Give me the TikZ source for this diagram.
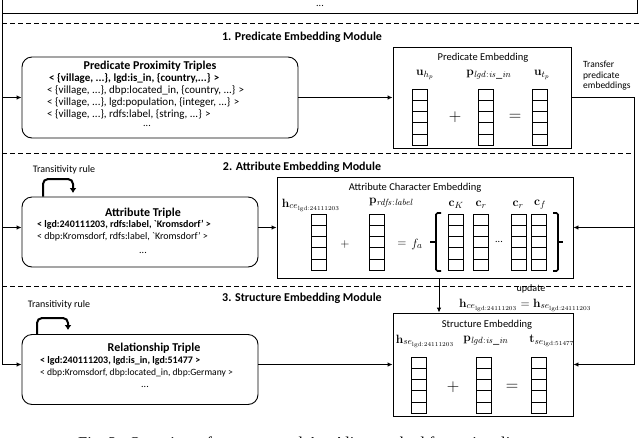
\documentclass[tikz,border=0pt]{standalone}
\usepackage[no-math]{fontspec}
\setmainfont{Carlito}
\newfontfamily\capfont{Liberation Serif}
\usetikzlibrary{arrows.meta}
\newcommand{\fsz}[2]{\fontsize{#1}{#2}\selectfont}
\tikzset{
  ln/.style={line width=0.9pt},
  dsh/.style={line width=0.8pt, dash pattern=on 5pt off 3pt},
  arr/.style={line width=0.9pt, -{Latex[length=5pt,width=4.5pt]}},
  looparr/.style={line width=2pt, rounded corners=5pt, -{Latex[length=5pt,width=7pt]}},
  plainbox/.style={draw, line width=0.9pt, inner sep=0pt},
  tribox/.style={draw, line width=0.9pt, rounded corners=10pt, inner sep=0pt},
  txt/.style={inner sep=0pt, font=\fsz{10}{12}},
  btxt/.style={inner sep=0pt, font=\fsz{10}{12}\bfseries},
  ttl/.style={inner sep=0pt, font=\fsz{12}{14}\bfseries},
  sec/.style={inner sep=0pt, font=\fsz{12}{14}\bfseries},
  mlab/.style={inner sep=0pt, font=\fsz{12.5}{14}},
  op/.style={inner sep=0pt, font=\fsz{17}{20}},
  cell/.style={draw, line width=0.9pt},
  vec/.pic={\foreach \i in {0,...,4}{\draw[cell] (0,\i*11.3) rectangle ++(15,11.3);}},
  brk/.style={line width=1.6pt, rounded corners=1.5pt}
}
\begin{document}
\begin{tikzpicture}[x=1pt,y=-1pt]
\useasboundingbox (0,0) rectangle (640,437);
\clip (0,0) rectangle (640,437);

% top box remains
\draw[ln] (2,-5) -- (2,13) -- (637,13) -- (637,-5);
\node[txt, anchor=base] (topdots) at (320,6) {...};

% dashed separators
\draw[dsh] (2,23) -- (640,23);
\draw[dsh] (2,153) -- (634,153);
\draw[dsh] (2,286) -- (634,286);

% section titles
\node[sec] (s1) at (302,37) {1. Predicate Embedding Module};
\node[sec] (s2) at (302,167) {2. Attribute Embedding Module};
\node[sec] (s3) at (302,298) {3. Structure Embedding Module};

% ---------- boxes ----------
\node[tribox, minimum width=276pt, minimum height=81pt] (pp) at (160,97.5) {};
\node[plainbox, minimum width=178pt, minimum height=101pt] (pe) at (482,97.5) {};
\node[tribox, minimum width=236pt, minimum height=70pt] (at) at (140,232) {};
\node[plainbox, minimum width=296pt, minimum height=101pt] (ae) at (425,227.5) {};
\node[tribox, minimum width=236pt, minimum height=70pt] (rt) at (140,369.5) {};
\node[plainbox, minimum width=180pt, minimum height=103pt] (se) at (483,364.5) {};

% ---------- predicate proximity triples ----------
\node[ttl] (ppt) at (150,66) {Predicate Proximity Triples};
\node[btxt, font=\fsz{11}{12}\bfseries, anchor=west] (pp1) at (49,78) {< \{village, ...\}, lgd:is\_in, \{country,...\} >};
\node[txt, font=\fsz{11}{12}, anchor=west] (pp2) at (47,90) {< \{village, ...\}, dbp:located\_in, \{country, ...\} >};
\node[txt, font=\fsz{11}{12}, anchor=west] (pp3) at (47,102) {< \{village, ...\}, lgd:population, \{integer, ...\} >};
\node[txt, font=\fsz{11}{12}, anchor=west] (pp4) at (47,114) {< \{village, ...\}, rdfs:label, \{string, ...\} >};
\node[txt] (pp5) at (147,126) {...};

% ---------- predicate embedding ----------
\node[txt, font=\fsz{10.5}{12}] (pet) at (483,58) {Predicate Embedding};
\node[mlab] (pl1) at (425,75) {$\mathbf{u}_{h_p}$};
\node[mlab] (pl2) at (489,75) {$\mathbf{p}_{\mathit{lgd}{:}\mathit{is\_in}}$};
\node[mlab] (pl3) at (542,75) {$\mathbf{u}_{t_p}$};
\pic at (412,89) {vec};
\pic at (478,89) {vec};
\pic at (532,89) {vec};
\node[op] (pplus) at (455,117) {$+$};
\node[op] (peq) at (515,117) {$=$};

\node[txt, font=\fsz{9.5}{10.5}, anchor=north west, align=left] (tr) at (583,61) {Transfer\\predicate\\embeddings};

% ---------- attribute triple ----------
\node[txt] (trn1) at (64,170) {Transitivity rule};
\coordinate (lp1) at (43,179);
\draw[looparr] (at.north -| lp1) -- (lp1) -- (73,179) -- (73,193);
\node[ttl] (att) at (143,213) {Attribute Triple};
\node[btxt, anchor=west] (at1) at (37,225) {< lgd:240111203, rdfs:label, \textasciigrave Kromsdorf’ >};
\node[txt, anchor=west] (at2) at (37,237) {< dbp:Kromsdorf, rdfs:label, \textasciigrave Kromsdorf’ >};
\node[txt] (at3) at (143,253) {...};

% ---------- attribute character embedding ----------
\node[txt, font=\fsz{10.5}{12}] (aet) at (415,188) {Attribute Character Embedding};
\node[mlab] (al1) at (311,205) {$\mathbf{h}_{ce_{\mathrm{lgd{:}24111203}}}$};
\node[mlab, anchor=west] (al2) at (369,203) {$\mathbf{p}_{\mathit{rdfs}{:}\mathit{label}}$};
\node[mlab, font=\fsz{13}{14}] (al3) at (456,205) {$\mathbf{c}_K$};
\node[mlab, font=\fsz{13}{14}] (al4) at (481,205) {$\mathbf{c}_r$};
\node[mlab, font=\fsz{13}{14}] (al5) at (518,205) {$\mathbf{c}_r$};
\node[mlab, font=\fsz{13}{14}] (al6) at (540,205) {$\mathbf{c}_f$};
\pic at (311,214) {vec};
\pic at (369,214) {vec};
\pic at (448,214) {vec};
\pic at (473,214) {vec};
\pic at (511,214) {vec};
\pic at (531,214) {vec};
\node[mlab] (aplus) at (345,244) {$+$};
\node[mlab] (aeq) at (402,244) {$=$};
\node[mlab] (afa) at (417,244) {$f_a$};
\node[txt] (adots) at (499,242) {...};
\draw[brk] (441,213) -- (436,213) -- (436,271) -- (441,271);
\draw[brk] (436,242) -- (430,242);
\draw[brk] (553,213) -- (558,213) -- (558,271) -- (553,271);
\draw[brk] (558,242) -- (563,242);

% ---------- relationship triple ----------
\node[txt] (trn2) at (59,305) {Transitivity rule};
\coordinate (lp2) at (37,318);
\draw[looparr] (rt.north -| lp2) -- (lp2) -- (68,318) -- (68,330);
\node[ttl] (rtt) at (154,348) {Relationship Triple};
\node[btxt, anchor=west] (rt1) at (40,361) {< lgd:240111203, lgd:is\_in, lgd:51477 >};
\node[txt, font=\fsz{9.6}{12}, anchor=west] (rt2) at (40,373) {< dbp:Kromsdorf, dbp:located\_in, dbp:Germany >};
\node[txt] (rt3) at (145,387) {...};

% ---------- update equation ----------
\node[txt, font=\fsz{10}{12}] (upd) at (531,289) {update};
\node[mlab, font=\fsz{13}{15}, anchor=west] (ueq) at (459,305) {$\mathbf{h}_{ce_{\mathrm{lgd{:}24111203}}} = \mathbf{h}_{se_{\mathrm{lgd{:}24111203}}}$};

% ---------- structure embedding ----------
\node[txt, font=\fsz{10.5}{12}] (set) at (487,325) {Structure Embedding};
\node[mlab] (sl1) at (425,341) {$\mathbf{h}_{se_{\mathrm{lgd{:}24111203}}}$};
\node[mlab] (sl2) at (486,341) {$\mathbf{p}_{\mathit{lgd}{:}\mathit{is\_in}}$};
\node[mlab] (sl3) at (552,341) {$\mathbf{t}_{se_{\mathrm{lgd{:}51477}}}$};
\pic at (411,357) {vec};
\pic at (476,357) {vec};
\pic at (531,357) {vec};
\node[op, font=\fsz{16}{18}] (splus) at (453,387) {$+$};
\node[op, font=\fsz{16}{18}] (seq) at (512,387) {$=$};

% ---------- connectors ----------
\coordinate (ltop) at (2,-5);
\draw[ln] (ltop) -- (ltop |- se.west) -- ++(5,0);
\draw[arr] (ltop |- pp.west) -- (pp.west);
\draw[arr] (ltop |- ae.west) -- (at.west |- ae.west);
\draw[arr] (ltop |- se.west) -- (rt.west |- se.west);

\draw[arr] (pp.east) -- (pe.west);
\draw[arr] (at.east |- ae.west) -- (ae.west);
\draw[arr] (rt.east |- se.west) -- (se.west);

\coordinate (rc) at (634,97.5);
\draw[ln] (pe.east) -- (rc) -- (rc |- se.east);
\draw[arr] (rc |- ae.east) -- (ae.east);
\draw[arr] (rc |- se.east) -- (se.east);

\coordinate (vx) at (439,0);
\draw[arr] (ae.south -| vx) -- (se.north -| vx);

% caption (cut off at the bottom)
\node[inner sep=0pt, anchor=base west, font=\capfont\fsz{16.5}{18}] (cap) at (78,448) {Fig.~2.\ \ Overview of our proposed AttrAlign method for entity alignment};
\end{tikzpicture}
\end{document}
